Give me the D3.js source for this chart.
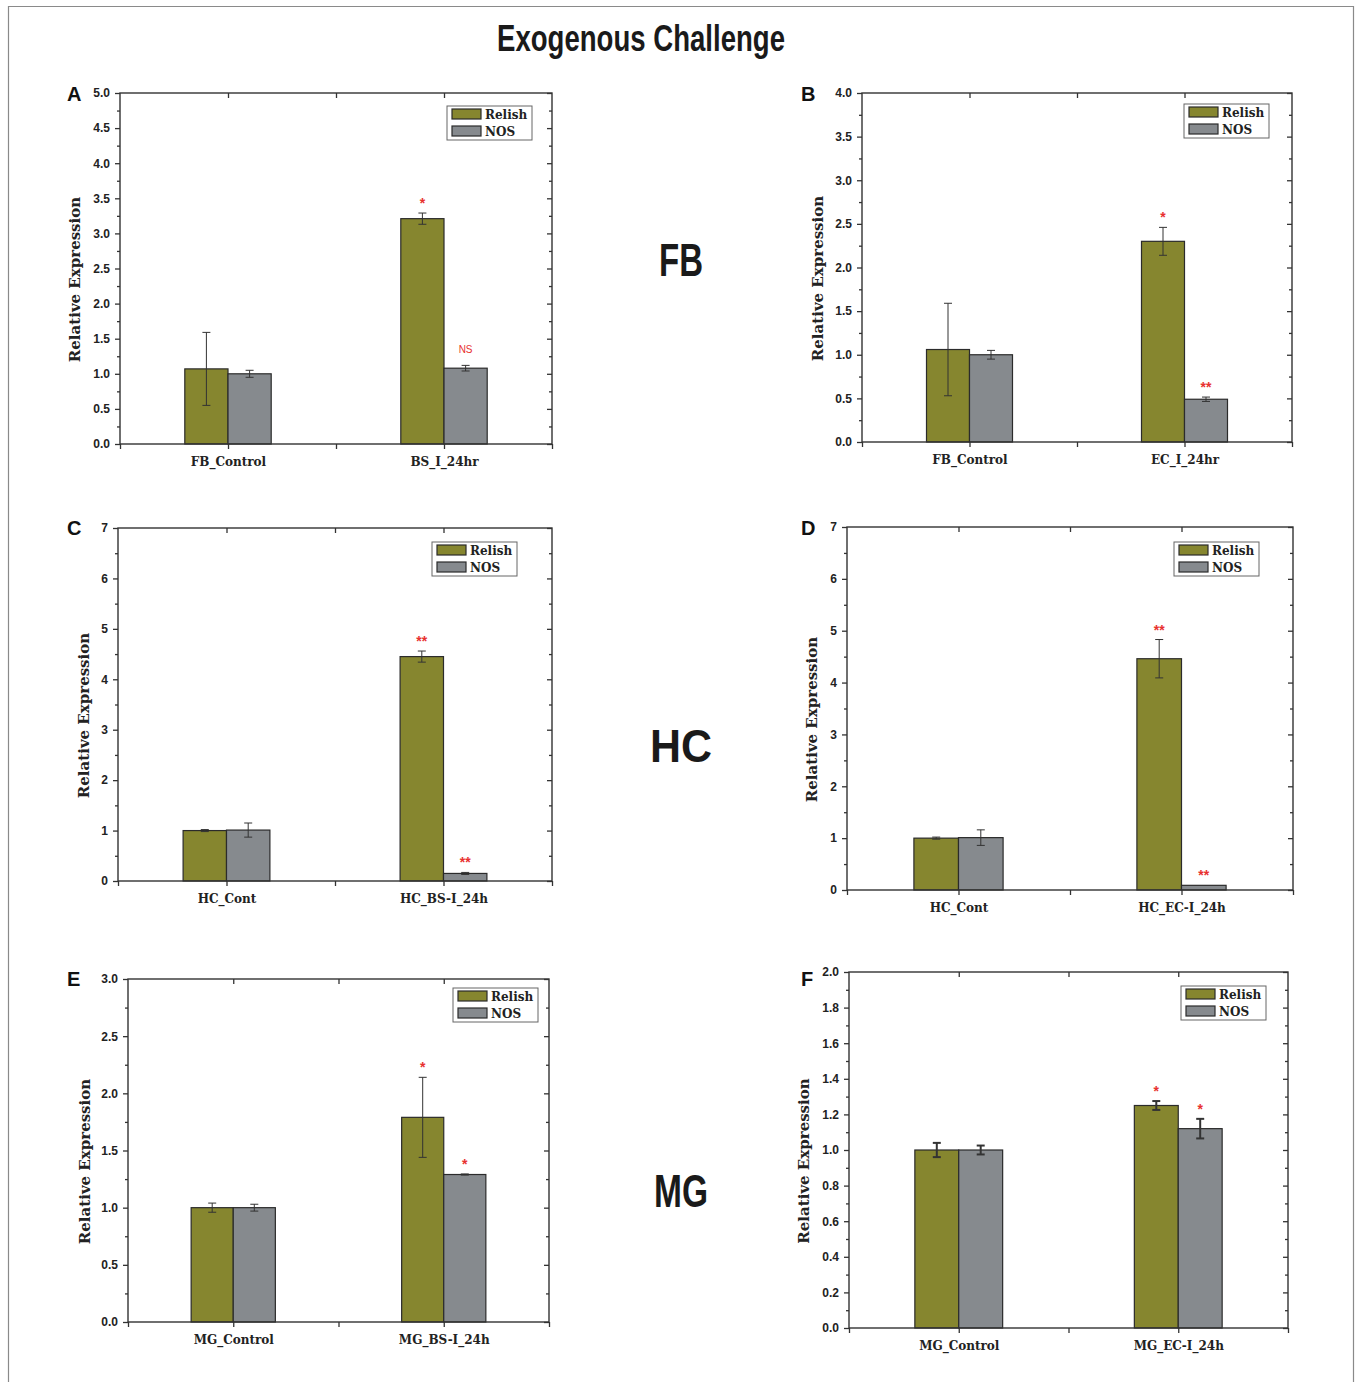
<!DOCTYPE html>
<html>
<head>
<meta charset="utf-8">
<script src="https://cdn.jsdelivr.net/npm/d3@7"></script>
<style>
  body { margin: 0; background: #fff; }
  svg { display: block; }
</style>
</head>
<body>
<div id="chart"></div>
<script>
// Exogenous Challenge - Relish / NOS relative expression, six panels

var series = ["Relish", "NOS"];
var colors = ["#86862f", "#868a8e"];

// A: fat body, B. subtilis
var catsA = ["FB_Control", "BS_I_24hr"];
var relishA = [1.07, 3.21], relishErrA = [0.52, 0.08];
var nosA = [1.00, 1.08], nosErrA = [0.05, 0.04];
var relishSigA = ["", "*"], nosSigA = ["", "NS"];

// B: fat body, E. coli
var catsB = ["FB_Control", "EC_I_24hr"];
var relishB = [1.06, 2.30], relishErrB = [0.53, 0.16];
var nosB = [1.00, 0.49], nosErrB = [0.05, 0.025];
var relishSigB = ["", "*"], nosSigB = ["", "**"];

// C: haemocytes, B. subtilis
var catsC = ["HC_Cont", "HC_BS-I_24h"];
var relishC = [1.00, 4.45], relishErrC = [0.02, 0.11];
var nosC = [1.01, 0.15], nosErrC = [0.14, 0.02];
var relishSigC = ["", "**"], nosSigC = ["", "**"];

// D: haemocytes, E. coli
var catsD = ["HC_Cont", "HC_EC-I_24h"];
var relishD = [1.00, 4.46], relishErrD = [0.02, 0.37];
var nosD = [1.01, 0.09], nosErrD = [0.15, 0.0];
var relishSigD = ["", "**"], nosSigD = ["", "**"];

// E: midgut, B. subtilis
var catsE = ["MG_Control", "MG_BS-I_24h"];
var relishE = [1.00, 1.79], relishErrE = [0.04, 0.35];
var nosE = [1.00, 1.29], nosErrE = [0.03, 0.005];
var relishSigE = ["", "*"], nosSigE = ["", "*"];

// F: midgut, E. coli
var catsF = ["MG_Control", "MG_EC-I_24h"];
var relishF = [1.00, 1.25], relishErrF = [0.04, 0.025];
var nosF = [1.00, 1.12], nosErrF = [0.025, 0.055];
var relishSigF = ["", "*"], nosSigF = ["", "*"];

// y axis ranges (max, major step, minor step, decimals)
var yAxisA = [5, 0.5, 0.25, 1];
var yAxisB = [4, 0.5, 0.25, 1];
var yAxisC = [7, 1, 0.5, 0];
var yAxisD = [7, 1, 0.5, 0];
var yAxisE = [3, 0.5, 0.25, 1];
var yAxisF = [2, 0.2, 0.1, 1];

var tissueLabels = ["FB", "HC", "MG"];

var svgWidth = 1356;
var svgHeight = 1382;

var svg = d3.select("#chart")
  .append("svg")
  .attr("width", svgWidth)
  .attr("height", svgHeight);

svg.append("rect").attr("width", svgWidth).attr("height", svgHeight).attr("fill", "#fff");

// outer frame (open at the bottom)
svg.append("path")
  .attr("d", "M8.5,1382 V6.5 H1353.5 V1382")
  .attr("fill", "none")
  .attr("stroke", "#8a8a8a")
  .attr("stroke-width", 1.2);

svg.append("text")
  .attr("x", 641)
  .attr("y", 51)
  .attr("text-anchor", "middle")
  .attr("font-family", "'Liberation Sans Narrow', 'Liberation Sans', sans-serif")
  .attr("font-weight", "bold")
  .attr("font-size", 36)
  .attr("textLength", 288)
  .attr("lengthAdjust", "spacingAndGlyphs")
  .attr("fill", "#1a1a1a")
  .text("Exogenous Challenge");

// tissue labels in the middle column
var tissuePos = [[276, 44], [762, 62], [1207, 54]];
tissueLabels.forEach(function(t, i) {
  svg.append("text")
    .attr("x", 681)
    .attr("y", tissuePos[i][0])
    .attr("text-anchor", "middle")
    .attr("font-family", "'Liberation Sans', Arial, sans-serif")
    .attr("font-weight", "bold")
    .attr("font-size", 46)
    .attr("textLength", tissuePos[i][1])
    .attr("lengthAdjust", "spacingAndGlyphs")
    .attr("fill", "#1a1a1a")
    .text(t);
});

var panels = [
  { label: "A", x0: 120, x1: 552, yTop: 93, yBot: 444, axis: yAxisA, cats: catsA,
    vals: [relishA, nosA], errs: [relishErrA, nosErrA], sigs: [relishSigA, nosSigA],
    titleX: 75, labelX: 67, labelY: 101, legRight: 532, legTop: 106, errW: 1 },
  { label: "B", x0: 862, x1: 1292, yTop: 93, yBot: 442, axis: yAxisB, cats: catsB,
    vals: [relishB, nosB], errs: [relishErrB, nosErrB], sigs: [relishSigB, nosSigB],
    titleX: 818, labelX: 801, labelY: 101, legRight: 1269, legTop: 104, errW: 1 },
  { label: "C", x0: 118, x1: 552, yTop: 528, yBot: 881, axis: yAxisC, cats: catsC,
    vals: [relishC, nosC], errs: [relishErrC, nosErrC], sigs: [relishSigC, nosSigC],
    titleX: 84, labelX: 67, labelY: 535, legRight: 517, legTop: 542, errW: 1 },
  { label: "D", x0: 847, x1: 1293, yTop: 527, yBot: 890, axis: yAxisD, cats: catsD,
    vals: [relishD, nosD], errs: [relishErrD, nosErrD], sigs: [relishSigD, nosSigD],
    titleX: 812, labelX: 801, labelY: 535, legRight: 1259, legTop: 542, errW: 1 },
  { label: "E", x0: 128, x1: 549, yTop: 979, yBot: 1322, axis: yAxisE, cats: catsE,
    vals: [relishE, nosE], errs: [relishErrE, nosErrE], sigs: [relishSigE, nosSigE],
    titleX: 85, labelX: 67, labelY: 986, legRight: 538, legTop: 988, errW: 1 },
  { label: "F", x0: 849, x1: 1288, yTop: 972, yBot: 1328, axis: yAxisF, cats: catsF,
    vals: [relishF, nosF], errs: [relishErrF, nosErrF], sigs: [relishSigF, nosSigF],
    titleX: 804, labelX: 801, labelY: 986, legRight: 1266, legTop: 986, errW: 2 }
];

var sansFont = "'Liberation Sans', Arial, sans-serif";
var serifFont = "'DejaVu Serif', 'Liberation Serif', serif";
var axisColor = "#333";

function styleAxis(g) {
  g.select(".domain").remove();
  g.selectAll(".tick line").attr("stroke", axisColor).attr("stroke-width", 1.3);
}

panels.forEach(function(p) {
  var yMax = p.axis[0], yStep = p.axis[1], yMinor = p.axis[2], dec = p.axis[3];

  var xScale = d3.scaleLinear().domain([0.5, 2.5]).range([p.x0, p.x1]);
  var yScale = d3.scaleLinear().domain([0, yMax]).range([p.yBot, p.yTop]);

  var majors = d3.range(0, Math.round(yMax / yStep) + 1).map(function(i) { return +(i * yStep).toFixed(4); });
  var minors = d3.range(0, Math.round(yMax / yMinor) + 1)
    .map(function(i) { return +(i * yMinor).toFixed(4); })
    .filter(function(v) { return Math.abs(v / yStep - Math.round(v / yStep)) > 1e-6; });

  var g = svg.append("g");

  // bars
  p.cats.forEach(function(c, i) {
    series.forEach(function(s, k) {
      var v = p.vals[k][i];
      var left = k === 0 ? i + 1 - 0.2 : i + 1;
      g.append("rect")
        .attr("x", xScale(left))
        .attr("y", yScale(v))
        .attr("width", xScale(left + 0.2) - xScale(left))
        .attr("height", yScale(0) - yScale(v))
        .attr("fill", colors[k])
        .attr("stroke", "#2b2b2b")
        .attr("stroke-width", 1.2);
    });
  });

  // error bars and significance marks
  p.cats.forEach(function(c, i) {
    series.forEach(function(s, k) {
      var v = p.vals[k][i], e = p.errs[k][i];
      var cx = xScale(k === 0 ? i + 1 - 0.1 : i + 1 + 0.1);
      if (e > 0) {
        var eb = g.append("g").attr("stroke", "#333").attr("stroke-width", p.errW);
        eb.append("line").attr("x1", cx).attr("x2", cx).attr("y1", yScale(v - e)).attr("y2", yScale(v + e));
        eb.append("line").attr("x1", cx - 4).attr("x2", cx + 4).attr("y1", yScale(v + e)).attr("y2", yScale(v + e));
        eb.append("line").attr("x1", cx - 4).attr("x2", cx + 4).attr("y1", yScale(v - e)).attr("y2", yScale(v - e));
      }
      var sig = p.sigs[k][i];
      if (sig) {
        var top = yScale(v + e);
        g.append("text")
          .attr("x", cx)
          .attr("y", sig === "NS" ? top - 12 : top - 5)
          .attr("text-anchor", "middle")
          .attr("font-family", sansFont)
          .attr("font-weight", sig === "NS" ? "normal" : "bold")
          .attr("font-size", sig === "NS" ? 10 : 14)
          .attr("fill", "#e8312f")
          .text(sig);
      }
    });
  });

  // plot frame
  g.append("rect")
    .attr("x", p.x0).attr("y", p.yTop)
    .attr("width", p.x1 - p.x0).attr("height", p.yBot - p.yTop)
    .attr("fill", "none")
    .attr("stroke", axisColor)
    .attr("stroke-width", 1.4);

  // left axis, major + minor
  var left = g.append("g").attr("transform", "translate(" + p.x0 + ",0)")
    .call(d3.axisLeft(yScale).tickValues(majors).tickSize(5).tickPadding(5)
      .tickFormat(d3.format("." + dec + "f")));
  styleAxis(left);
  left.selectAll("text")
    .attr("font-family", sansFont).attr("font-weight", "bold").attr("font-size", 12).attr("fill", "#222");

  var leftMinor = g.append("g").attr("transform", "translate(" + p.x0 + ",0)")
    .call(d3.axisLeft(yScale).tickValues(minors).tickSize(3).tickFormat(""));
  styleAxis(leftMinor);

  // right axis, inward ticks
  var right = g.append("g").attr("transform", "translate(" + p.x1 + ",0)")
    .call(d3.axisRight(yScale).tickValues(majors).tickSize(-5).tickFormat(""));
  styleAxis(right);
  var rightMinor = g.append("g").attr("transform", "translate(" + p.x1 + ",0)")
    .call(d3.axisRight(yScale).tickValues(minors).tickSize(-3).tickFormat(""));
  styleAxis(rightMinor);

  // top axis, inward ticks
  var topAx = g.append("g").attr("transform", "translate(0," + p.yTop + ")")
    .call(d3.axisTop(xScale).tickValues([1, 1.5, 2]).tickSize(-5).tickFormat(""));
  styleAxis(topAx);

  // bottom axis with category names
  var bottom = g.append("g").attr("transform", "translate(0," + p.yBot + ")")
    .call(d3.axisBottom(xScale).tickValues([0.5, 1, 1.5, 2, 2.5]).tickSize(5).tickPadding(8)
      .tickFormat(function(d) { return Number.isInteger(d) ? p.cats[d - 1] : ""; }));
  styleAxis(bottom);
  bottom.selectAll("text")
    .attr("font-family", serifFont).attr("font-weight", "bold").attr("font-size", 12).attr("fill", "#222");

  // y axis title
  var cy = (p.yTop + p.yBot) / 2 + 11;
  g.append("text")
    .attr("transform", "translate(" + p.titleX + "," + cy + ") rotate(-90)")
    .attr("dy", "0.35em")
    .attr("text-anchor", "middle")
    .attr("font-family", serifFont)
    .attr("font-weight", "bold")
    .attr("font-size", 15)
    .attr("fill", "#222")
    .text("Relative Expression");

  // panel letter
  g.append("text")
    .attr("x", p.labelX)
    .attr("y", p.labelY)
    .attr("font-family", sansFont)
    .attr("font-weight", "bold")
    .attr("font-size", 20)
    .attr("fill", "#111")
    .text(p.label);

  // legend
  var leg = g.append("g").attr("transform", "translate(" + (p.legRight - 85) + "," + p.legTop + ")");
  leg.append("rect")
    .attr("width", 85).attr("height", 34)
    .attr("fill", "#fff").attr("stroke", "#666").attr("stroke-width", 1);
  series.forEach(function(s, k) {
    leg.append("rect")
      .attr("x", 5).attr("y", 3 + k * 17)
      .attr("width", 29).attr("height", 10)
      .attr("fill", colors[k]).attr("stroke", "#2b2b2b").attr("stroke-width", 1.2);
    leg.append("text")
      .attr("x", 38).attr("y", 13 + k * 17)
      .attr("font-family", serifFont).attr("font-weight", "bold").attr("font-size", 12).attr("fill", "#222")
      .text(s);
  });
});
</script>
</body>
</html>
